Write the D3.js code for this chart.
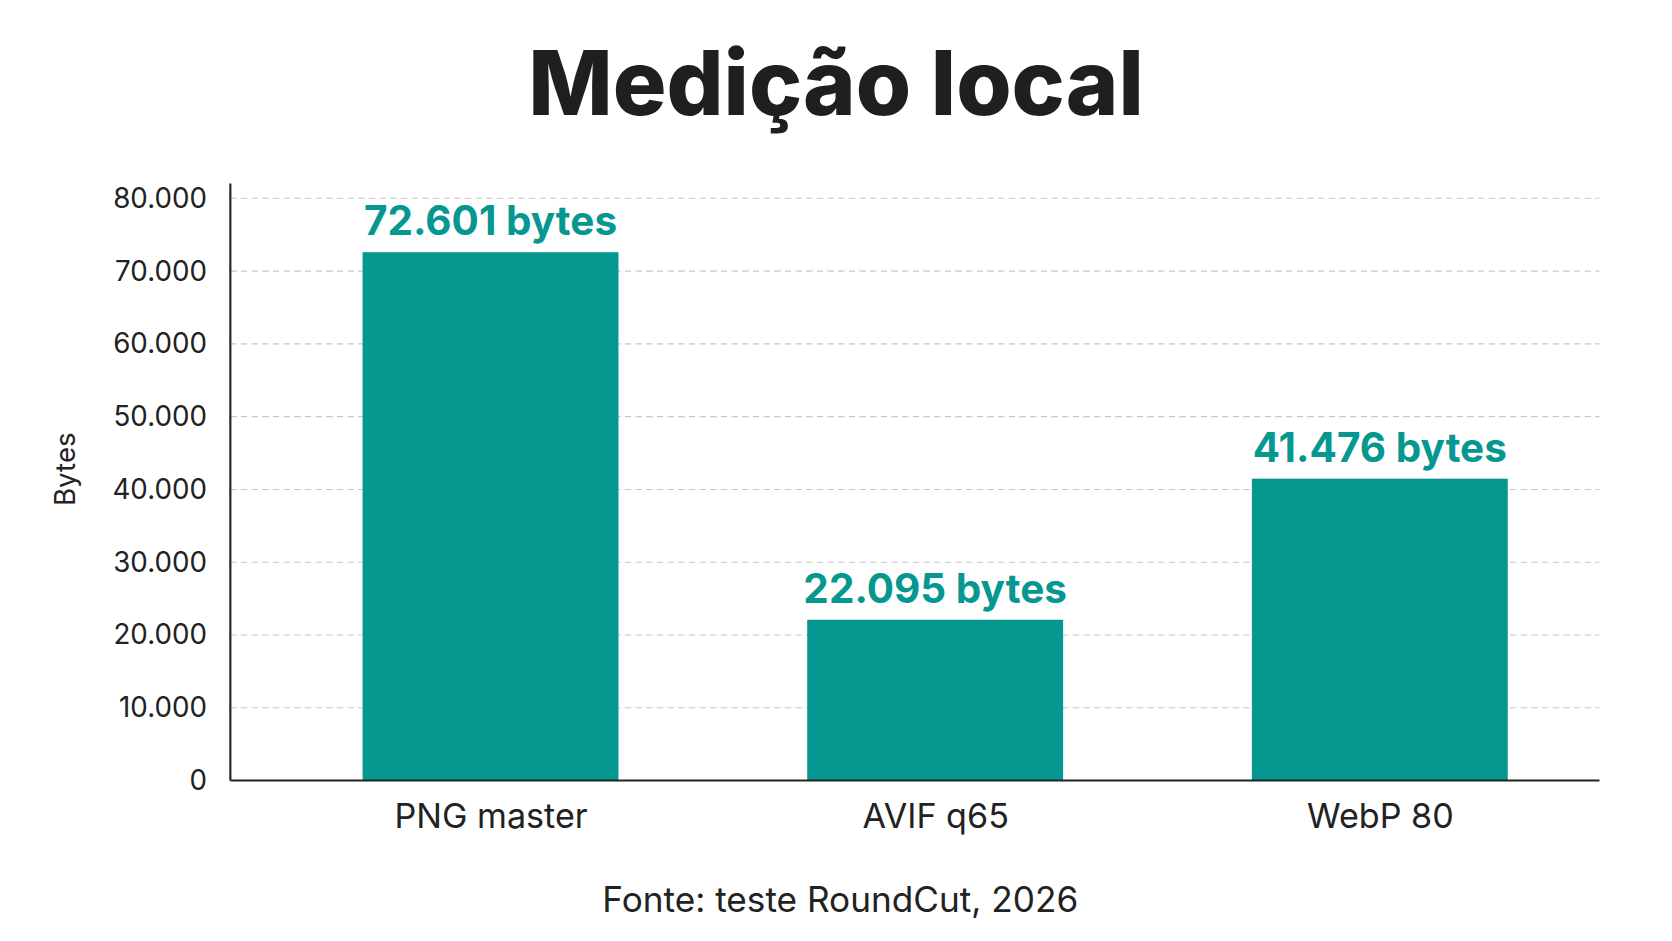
<!DOCTYPE html>
<html><head><meta charset="utf-8">
<script src="https://cdn.jsdelivr.net/npm/d3@7"></script>
<style>body{margin:0;background:#fff}svg{display:block}</style>
</head><body>
<svg id="chart" width="1672" height="941" viewBox="0 0 1568 882.5"></svg>
<script>
// Data
const categories = ["PNG master", "AVIF q65", "WebP 80"];
const values = [72601, 22095, 41476];
const valueLabels = ["72.601 bytes", "22.095 bytes", "41.476 bytes"];
const yTicks = [0, 10000, 20000, 30000, 40000, 50000, 60000, 70000, 80000];

const svg = d3.select("#chart");
const font = "Inter, 'Noto Sans', sans-serif";
const teal = "#079791";

const plotLeft = 216, plotRight = 1500, plotTop = 186, plotBottom = 732;
const x = d3.scalePoint().domain(categories).range([460, 1294]);
const y = d3.scaleLinear().domain([0, 80000]).range([plotBottom, plotTop]);
const barW = 240;

// Title
svg.append("text").attr("x", 784).attr("y", 108).attr("text-anchor", "middle")
  .style("font-family", font).style("font-weight", 800).style("font-size", "84px")
  .attr("fill", "#1f1f1f").text("Medição local");

// Grid
svg.append("g").selectAll("line").data(yTicks.slice(1)).join("line")
  .attr("x1", plotLeft).attr("x2", plotRight).attr("y1", d => y(d)).attr("y2", d => y(d))
  .attr("stroke", "#c8c8c8").attr("stroke-dasharray", "6,4");

// Bars
svg.append("g").selectAll("rect").data(values).join("rect")
  .attr("x", (d, i) => x(categories[i]) - barW / 2).attr("width", barW)
  .attr("y", d => y(d)).attr("height", d => plotBottom - y(d)).attr("fill", teal);

svg.append("g").selectAll("text").data(values).join("text")
  .attr("x", (d, i) => x(categories[i])).attr("y", d => y(d) - 16)
  .attr("text-anchor", "middle").style("font-family", font).style("font-weight", 700)
  .style("font-size", "38px").attr("fill", teal).text((d, i) => valueLabels[i]);

// Axes
const yAxis = svg.append("g").attr("transform", `translate(${plotLeft},0)`)
  .call(d3.axisLeft(y).tickValues(yTicks).tickSize(0).tickPadding(22)
    .tickFormat(d => d3.format(",")(d).replace(/,/g, ".")));
yAxis.select(".domain").attr("stroke", "#222").attr("stroke-width", 2).attr("d", `M0,${plotTop - 14}V${plotBottom}`);
yAxis.selectAll("text").style("font-family", font).style("font-size", "26px").attr("fill", "#222");

const xAxis = svg.append("g").attr("transform", `translate(0,${plotBottom})`)
  .call(d3.axisBottom(x).tickSize(0).tickPadding(22));
xAxis.select(".domain").attr("stroke", "#222").attr("stroke-width", 2).attr("d", `M${plotLeft},0H${plotRight}`);
xAxis.selectAll("text").style("font-family", font).style("font-size", "32px").attr("fill", "#222");

// Labels
svg.append("text").attr("transform", "translate(70,440) rotate(-90)").attr("text-anchor", "middle")
  .style("font-family", font).style("font-size", "26px").attr("fill", "#222").text("Bytes");
svg.append("text").attr("x", 788).attr("y", 855).attr("text-anchor", "middle")
  .style("font-family", font).style("font-size", "33px").attr("fill", "#222").text("Fonte: teste RoundCut, 2026");
</script>
</body></html>
